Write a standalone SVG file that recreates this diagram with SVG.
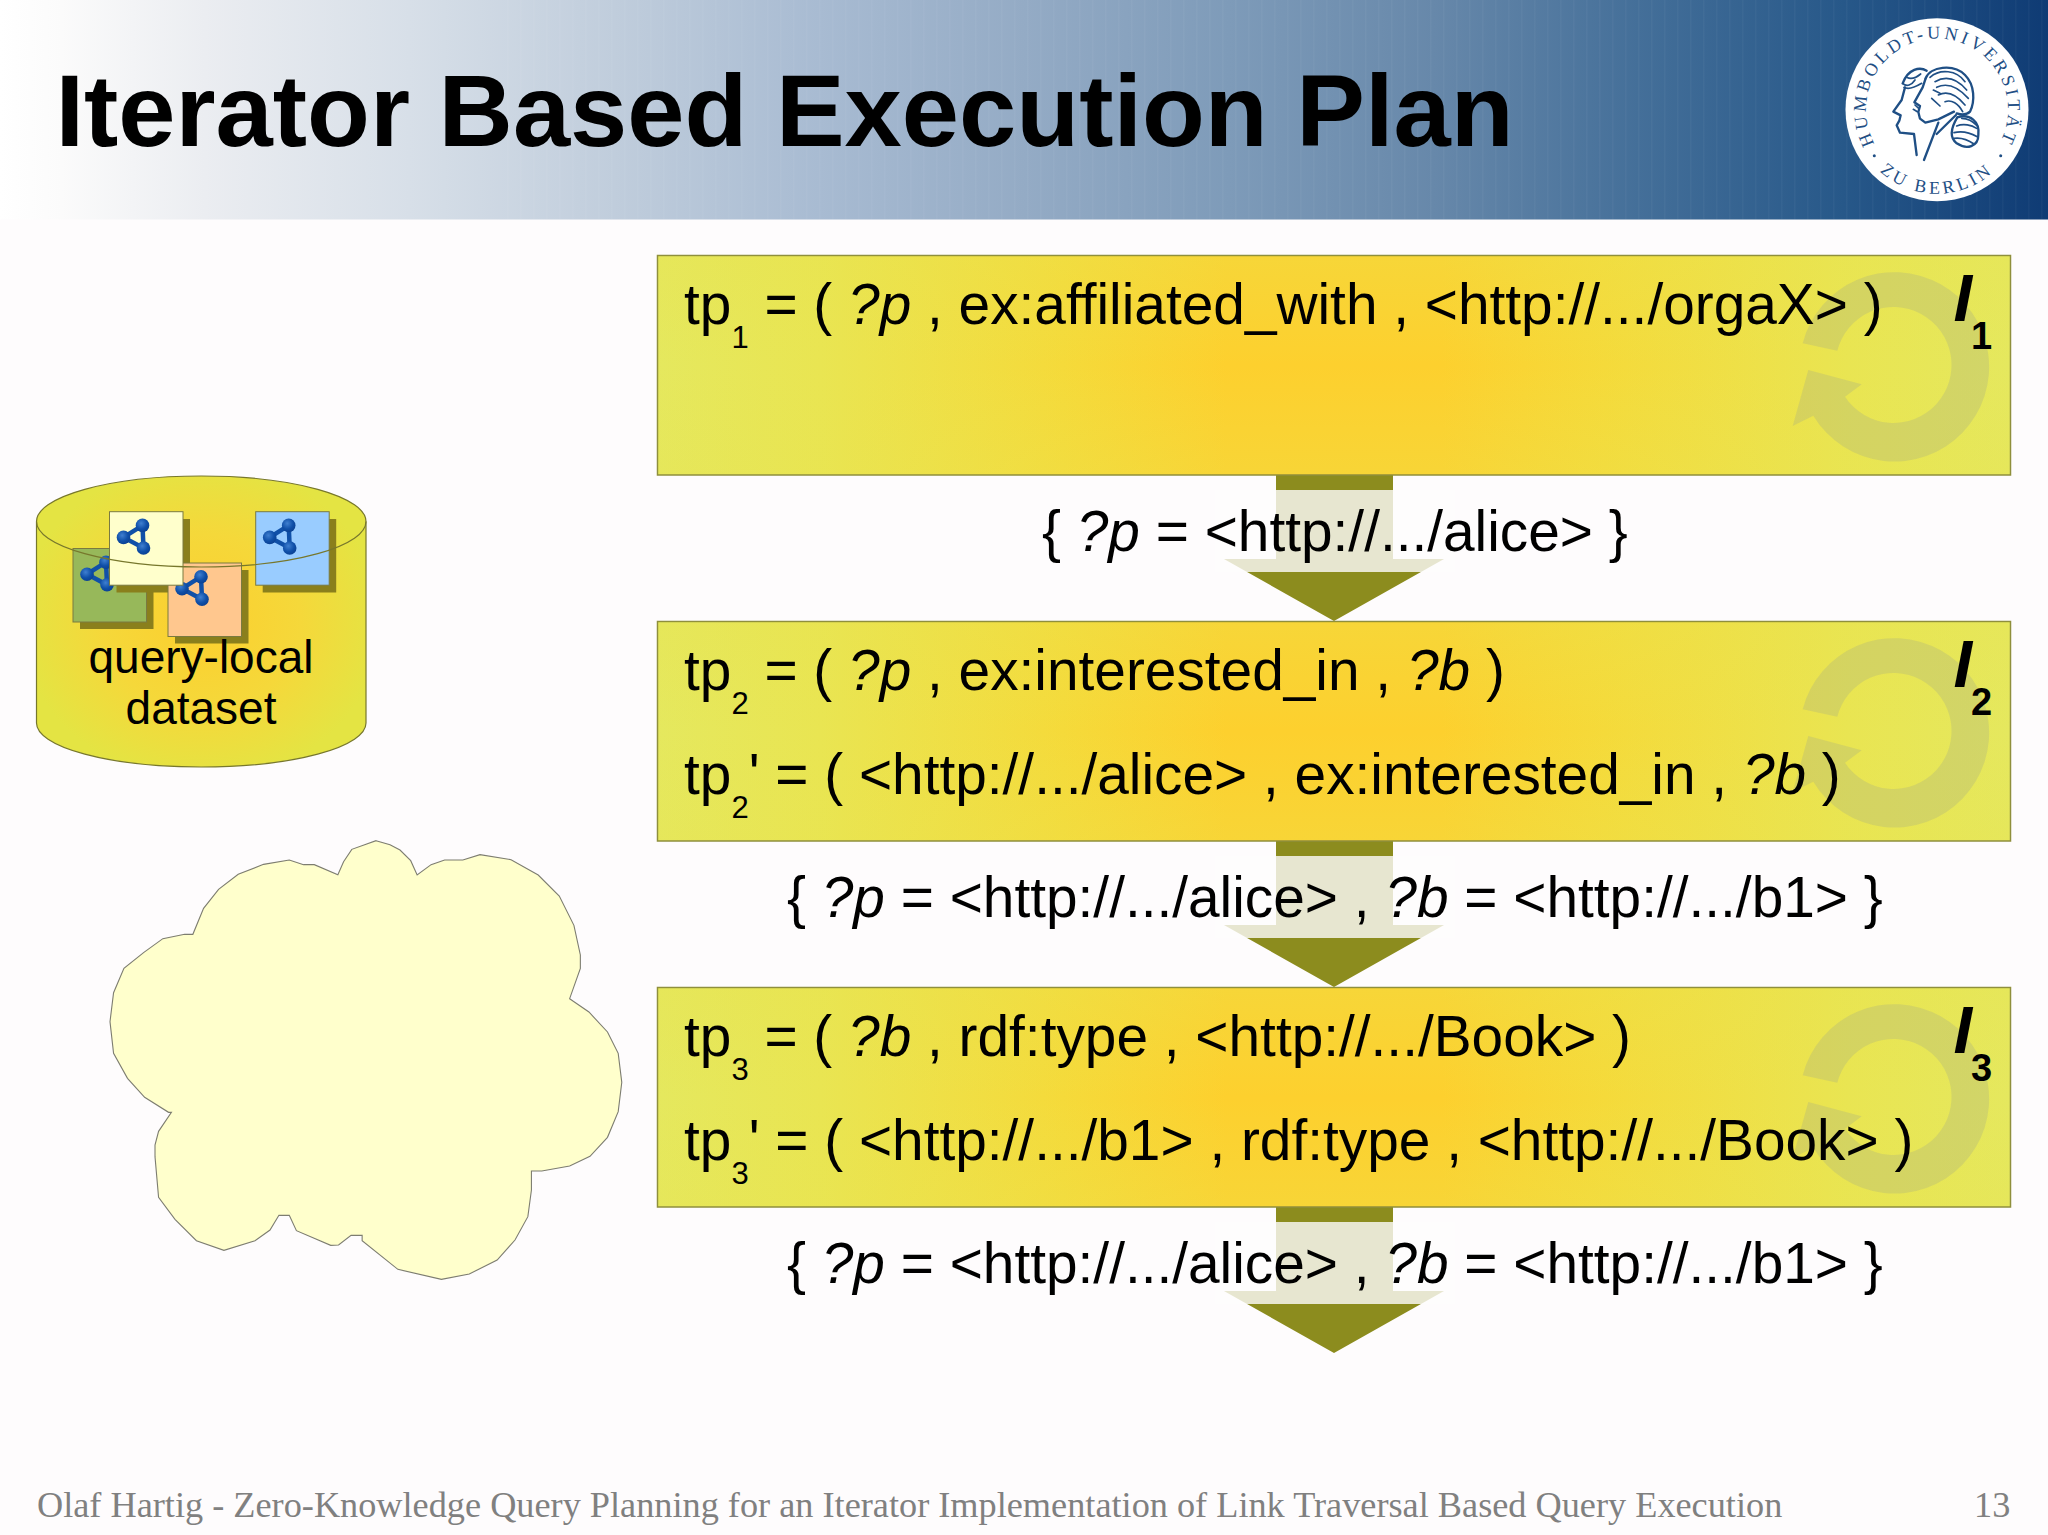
<svg xmlns="http://www.w3.org/2000/svg" xmlns:xlink="http://www.w3.org/1999/xlink" width="2048" height="1535" viewBox="0 0 2048 1535">
<style>
.t{font-family:"Liberation Sans",Arial,sans-serif;font-size:56.8px;fill:#000}
.s{font-size:31px}
.i{font-style:italic}
.box{fill:url(#boxG);stroke:#8f8f3c;stroke-width:1.5}
.boxv{fill:url(#boxV)}
.loop{fill:#a4ac84;opacity:.3}
.I{font-family:"Liberation Sans",Arial,sans-serif;font-weight:bold;fill:#000}
.arrow{fill:#8c8c1e}
.veil{fill:#fefcfd;opacity:.8}
.sq{stroke:#7a7a40;stroke-width:1}
.sh{fill:#8a7f1c}
.cyl{fill:none;stroke:#77772c;stroke-width:1.2}
.foot{font-family:"Liberation Serif","Times New Roman",serif;font-size:36.27px;fill:#808080}
.seal{font-family:"Liberation Serif","Times New Roman",serif;font-size:18px;fill:#1f4f85}
.ink{fill:none;stroke:#1f4f85;stroke-width:7;stroke-linecap:round;stroke-linejoin:round}
.thin{fill:none;stroke:#1f4f85;stroke-width:5;stroke-linecap:round}
</style>
<defs>
<linearGradient id="head" x1="0" x2="1" y1="0" y2="0">
<stop offset="0" stop-color="#ffffff"/><stop offset=".03" stop-color="#fbfbfb"/><stop offset=".1" stop-color="#ebedf1"/><stop offset=".2" stop-color="#d7dfe8"/><stop offset=".3" stop-color="#c0cddc"/><stop offset=".4" stop-color="#a8bbd2"/><stop offset=".5" stop-color="#94abc5"/><stop offset=".6" stop-color="#7e9bb9"/><stop offset=".7" stop-color="#6788aa"/><stop offset=".8" stop-color="#446f99"/><stop offset=".9" stop-color="#275889"/><stop offset="1" stop-color="#0f3b74"/>
</linearGradient>
<pattern id="stripes" width="13" height="10" patternUnits="userSpaceOnUse"><rect width="1.5" height="10" fill="#fff" opacity=".03"/></pattern>
<linearGradient id="boxG" x1="0" x2="1" y1="0" y2="0">
<stop offset="0" stop-color="#e5e85e"/><stop offset=".12" stop-color="#e9e552"/><stop offset=".3" stop-color="#f5da3a"/><stop offset=".42" stop-color="#fdd02e"/><stop offset=".58" stop-color="#fdd02e"/><stop offset=".7" stop-color="#f5da3a"/><stop offset=".88" stop-color="#e9e552"/><stop offset="1" stop-color="#e5e85e"/>
</linearGradient>
<linearGradient id="boxV" x1="0" x2="0" y1="0" y2="1">
<stop offset="0" stop-color="#e8e450" stop-opacity=".3"/><stop offset=".5" stop-color="#e8e450" stop-opacity="0"/><stop offset="1" stop-color="#e8e450" stop-opacity=".25"/>
</linearGradient>
<radialGradient id="cylG" cx=".5" cy=".5" r=".55">
<stop offset="0" stop-color="#fccf2e"/><stop offset=".55" stop-color="#f5d83a"/><stop offset="1" stop-color="#e4e443"/>
</radialGradient>
<radialGradient id="ball" cx=".4" cy=".35" r=".7"><stop offset="0" stop-color="#3f7fd0"/><stop offset=".6" stop-color="#0f4fa8"/><stop offset="1" stop-color="#0a3f90"/></radialGradient>
<g id="net">
<path d="M14 25.7L33 13.7L34 36.3Z" fill="none" stroke="#1050a8" stroke-width="4.5"/>
<circle cx="14" cy="25.7" r="6.8" fill="url(#ball)"/><circle cx="33" cy="13.7" r="6.8" fill="url(#ball)"/><circle cx="34" cy="36.3" r="6.8" fill="url(#ball)"/>
</g>
<path id="loopShape" d="M1802.7 343.3A94.7 94.7 0 1 1 1813.3 415.7L1792.7 426L1808.3 370L1861.7 384.3L1845 396.7A58 58 0 1 0 1837.3 350.7Z"/>
<path id="arcTop" d="M1882.6 155.3A71 71 0 1 1 1991.4 155.3"/>
<path id="arcBot" d="M1865 153A84 84 0 0 0 2009 153"/>
</defs>
<rect width="2048" height="1535" fill="#fefcfd"/>
<rect id="header" width="2048" height="219.5" fill="url(#head)"/>
<rect x="500" width="1548" height="219.5" fill="url(#stripes)"/>
<text id="title" x="55.5" y="146" font-family="'Liberation Sans',Arial,sans-serif" font-weight="bold" font-size="102.9" fill="#000">Iterator Based Execution Plan</text>

<g id="seal">
<circle cx="1937" cy="109.7" r="91.5" fill="#fff"/>
<text class="seal" letter-spacing="3.4" text-anchor="middle"><textPath xlink:href="#arcTop" href="#arcTop" startOffset="50%">HUMBOLDT-UNIVERSITÄT</textPath></text>
<text class="seal" letter-spacing="3.6" text-anchor="middle"><textPath xlink:href="#arcBot" href="#arcBot" startOffset="50%">ZU BERLIN</textPath></text>
<circle cx="1874.3" cy="155.7" r="1.5" fill="#1f4f85"/><circle cx="2000.7" cy="155.7" r="1.5" fill="#1f4f85"/>
<g transform="translate(1780 0) scale(.33333)">
<path class="ink" d="M368 250C385 205 420 200 440 212M375 262L365 300L340 335L362 346L358 362L350 376L360 398L402 402L410 465"/>
<path class="thin" d="M368 250C380 262 395 255 405 240M380 232C395 240 410 232 422 222M372 262C385 270 405 262 425 250"/>
<path class="ink" d="M437 235L428 262L403 307L420 318L415 336L420 356L436 368L475 358L522 335M475 368L432 480M528 345L470 402"/>
<path class="ink" d="M437 235C450 200 520 190 555 225C585 255 585 305 570 335C560 345 545 345 530 340"/>
<path class="thin" d="M450 232C480 205 530 210 555 245M465 245C500 225 530 235 560 270M470 262C505 245 535 262 565 295M475 285C505 270 530 285 555 315M495 305C515 298 535 310 548 335M455 295L480 318M460 270L480 280"/>
<path class="ink" d="M532 352C570 340 600 365 595 405C595 440 560 450 530 430C505 410 515 380 532 352"/>
<path class="thin" d="M530 378C550 370 575 375 590 385M522 398C545 392 570 398 592 410M522 415C545 412 565 420 582 432M545 355C565 355 580 365 592 378"/>
<path class="thin" d="M405 315L416 325M400 328L412 335"/>
</g>
</g>

<g id="connectors">
<g id="arrow1"><path class="arrow" d="M1276 475H1393V559H1444L1334 621L1224 559H1276Z"/></g>
<g id="arrow2"><path class="arrow" d="M1276 841H1393V925H1444L1334 987L1224 925H1276Z"/></g>
<g id="arrow3"><path class="arrow" d="M1276 1207H1393V1291H1444L1334 1353L1224 1291H1276Z"/></g>
</g>

<g id="binding1"><rect class="veil" x="1215" y="490" width="240" height="82"/>
<text class="t" x="1042" y="551">{ <tspan class="i">?p</tspan> = &lt;http://.../alice&gt; }</text></g>
<g id="binding2"><rect class="veil" x="1215" y="856" width="240" height="82"/>
<text class="t" x="787" y="917">{ <tspan class="i">?p</tspan> = &lt;http://.../alice&gt; , <tspan class="i">?b</tspan> = &lt;http://.../b1&gt; }</text></g>
<g id="binding3"><rect class="veil" x="1215" y="1222" width="240" height="82"/>
<text class="t" x="787" y="1283">{ <tspan class="i">?p</tspan> = &lt;http://.../alice&gt; , <tspan class="i">?b</tspan> = &lt;http://.../b1&gt; }</text></g>

<g id="iterator1">
<rect class="box" x="657.5" y="255.5" width="1353" height="219.5"/>
<rect class="boxv" x="658.5" y="256.5" width="1351" height="217.5"/>
<use href="#loopShape" class="loop"/>
<text class="t" x="684" y="324">tp<tspan class="s" dy="24">1</tspan><tspan dy="-24"> = ( </tspan><tspan class="i">?p</tspan> , ex:affiliated_with , &lt;http://.../orgaX&gt; )</text>
<text class="I" x="1953.5" y="321" font-size="67" font-style="italic">I</text><text class="I" x="1971" y="349" font-size="38">1</text>
</g>
<g id="iterator2">
<rect class="box" x="657.5" y="621.5" width="1353" height="219.5"/>
<rect class="boxv" x="658.5" y="622.5" width="1351" height="217.5"/>
<use href="#loopShape" class="loop" y="366"/>
<text class="t" x="684" y="690">tp<tspan class="s" dy="24">2</tspan><tspan dy="-24"> = ( </tspan><tspan class="i">?p</tspan> , ex:interested_in , <tspan class="i">?b</tspan> )</text>
<text class="t" x="684" y="794">tp<tspan class="s" dy="24">2</tspan><tspan dy="-24">' = ( &lt;http://.../alice&gt; , ex:interested_in , </tspan><tspan class="i">?b</tspan> )</text>
<text class="I" x="1953.5" y="687" font-size="67" font-style="italic">I</text><text class="I" x="1971" y="715" font-size="38">2</text>
</g>
<g id="iterator3">
<rect class="box" x="657.5" y="987.5" width="1353" height="219.5"/>
<rect class="boxv" x="658.5" y="988.5" width="1351" height="217.5"/>
<use href="#loopShape" class="loop" y="732"/>
<text class="t" x="684" y="1056">tp<tspan class="s" dy="24">3</tspan><tspan dy="-24"> = ( </tspan><tspan class="i">?b</tspan> , rdf:type , &lt;http://.../Book&gt; )</text>
<text class="t" x="684" y="1160">tp<tspan class="s" dy="24">3</tspan><tspan dy="-24">' = ( &lt;http://.../b1&gt; , rdf:type , &lt;http://.../Book&gt; )</tspan></text>
<text class="I" x="1953.5" y="1053" font-size="67" font-style="italic">I</text><text class="I" x="1971" y="1081" font-size="38">3</text>
</g>

<g id="dataset">
<path d="M36.5 521.5A164.75 45.5 0 0 1 366 521.5V723A164.75 44 0 0 1 36.5 723Z" fill="url(#cylG)" stroke="#77772c" stroke-width="1.2"/>
<rect class="sh" x="80" y="555.5" width="73.5" height="73.5"/>
<rect class="sq" x="73" y="548.5" width="73.5" height="73.5" fill="#97b85a"/>
<use href="#net" x="73" y="548.5"/>
<rect class="sh" x="116.5" y="519" width="73.5" height="73.5"/>
<rect class="sh" x="175" y="570" width="73.5" height="73.5"/>
<rect class="sq" x="168" y="563" width="73.5" height="73.5" fill="#ffc78e"/>
<use href="#net" x="168" y="563"/>
<rect class="sq" x="109.5" y="511.7" width="73.5" height="73.5" fill="#ffffcc"/>
<use href="#net" x="109.5" y="511.7"/>
<rect class="sh" x="262.7" y="519" width="73.5" height="73.5"/>
<rect class="sq" x="255.7" y="511.7" width="73.5" height="73.5" fill="#99ccff"/>
<use href="#net" x="255.7" y="511.7"/>
<path class="cyl" d="M36.5 521.5A164.75 45.5 0 0 0 366 521.5"/>
<text class="t" style="font-size:46px" x="201" y="673" text-anchor="middle">query-local</text>
<text class="t" style="font-size:46px" x="201" y="724" text-anchor="middle">dataset</text>
</g>

<g id="cloud">
<path transform="translate(90 820) scale(.35714 .33333)" vector-effect="non-scaling-stroke" fill="#ffffcc" stroke="#7d7d70" stroke-width="1.1" d="M801 62L840 74L868 90L898 122L916 165L955 134L993 120L1044 120L1092 104L1179 119L1255 165L1314 228L1355 316L1373 405L1373 445L1343 536L1397 576L1449 636L1479 700L1489 787L1479 875L1449 952L1400 1009L1343 1038L1265 1053L1236 1053L1236 1110L1226 1190L1190 1260L1140 1320L1062 1362L984 1378L862 1348L762 1262L762 1246L731 1246L696 1275L674 1276L578 1232L558 1186L529 1186L504 1230L462 1262L375 1291L298 1262L238 1198L192 1132L182 1010L182 975L192 934L228 877L220 877L153 832L105 775L66 700L56 605L66 518L95 445L150 398L204 356L265 343L288 343L318 265L360 208L415 163L486 133L558 120L598 134L628 134L694 164L710 125L733 88Z"/>
</g>

<text id="footer" class="foot" x="37" y="1517">Olaf Hartig - Zero-Knowledge Query Planning for an Iterator Implementation of Link Traversal Based Query Execution</text>
<text id="page" class="foot" x="1974" y="1517">13</text>
</svg>
